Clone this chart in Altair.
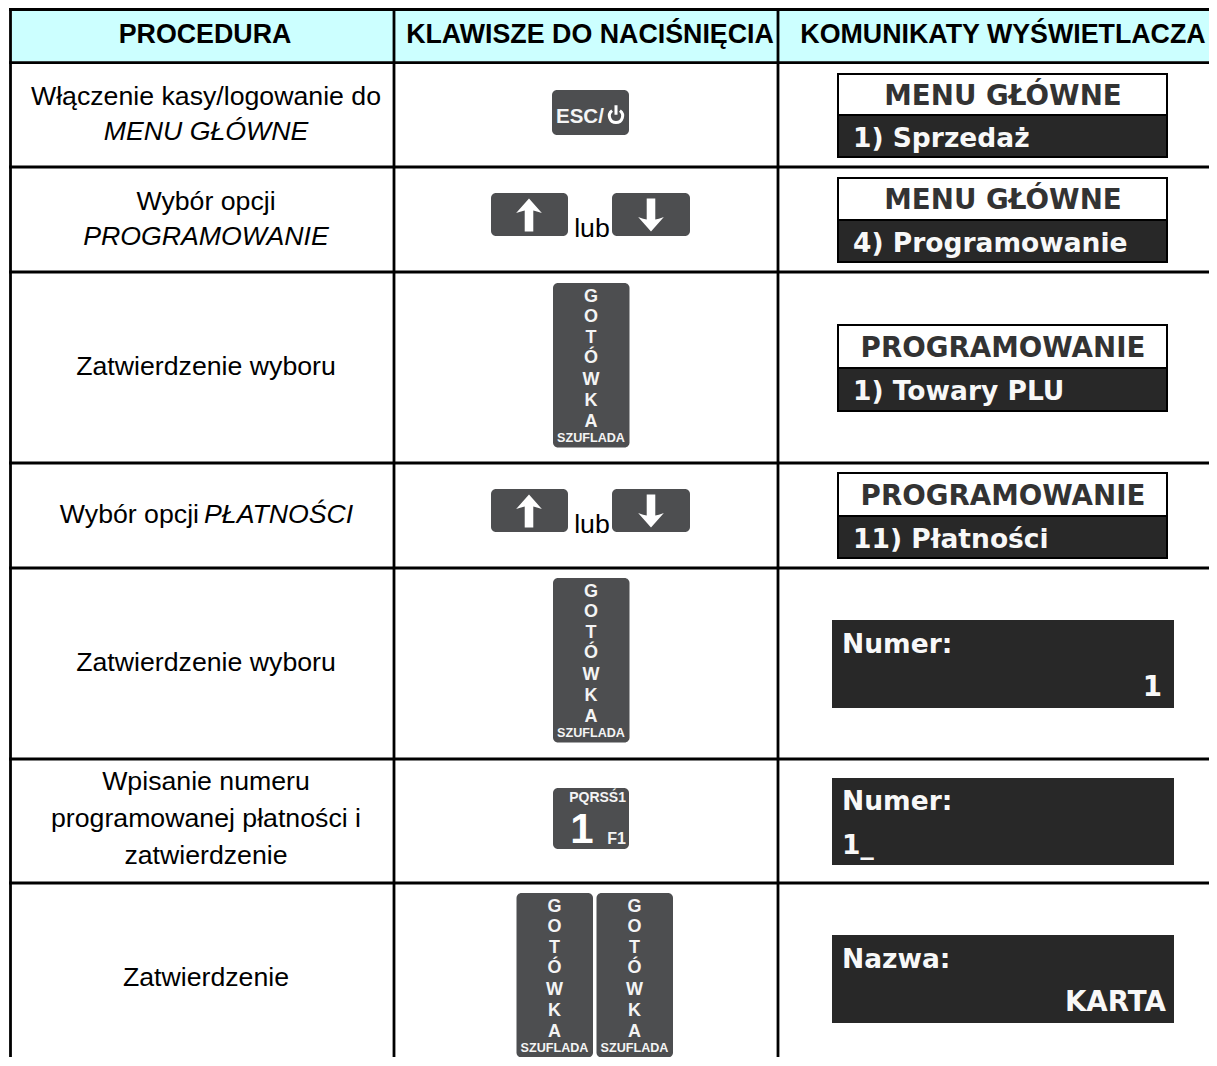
import altair as alt
import pandas as pd

# page margin is 8px: the drawing fits inside it so nothing overflows the page
WIDTH, HEIGHT = 1201, 1049
RIGHT, BOTTOM = 8 + WIDTH, 8 + HEIGHT
SANS = "Liberation Sans"
DISP = "DejaVu Sans"
KEY = "#4d4e50"
DARK = "#282828"
CYAN = "#ccffff"

# table structure
row_lines = [9.5, 62.7, 167, 272, 463, 568, 759, 883]
col_lines = [10.5, 394, 778]

# header
header_text = ["PROCEDURA", "KLAWISZE DO NACIŚNIĘCIA", "KOMUNIKATY WYŚWIETLACZA"]
header_x = [205, 590, 1003]

# procedure column: text, x, baseline
proc_plain = [("Włączenie kasy/logowanie do", 206, 105), ("Wybór opcji", 206, 210),
              ("Zatwierdzenie wyboru", 206, 375), ("Zatwierdzenie wyboru", 206, 671),
              ("Wpisanie numeru", 206, 790), ("programowanej płatności i", 206, 827),
              ("zatwierdzenie", 206, 864), ("Zatwierdzenie", 206, 986)]
proc_italic = [("MENU GŁÓWNE", 206, 140), ("PROGRAMOWANIE", 206, 245)]
mixed_plain = [("Wybór opcji", 199, 523)]
mixed_italic = [("PŁATNOŚCI", 204, 523)]
lub_text = [("lub", 592, 237), ("lub", 592, 533)]

# keys
gotowka_keys = [(591, 283), (591, 578), (554.5, 893), (634.5, 893)]
gotowka_letters = list("GOTÓWKA")
gotowka_base = [19, 39, 60, 80, 102, 123, 144]
plain_keys = [(552, 629, 90, 135), (491, 568, 193, 236), (612, 690, 193, 236),
              (491, 568, 489, 532), (612, 690, 489, 532), (553, 629, 788, 849)]
up_arrows = [(529, 215), (529, 511)]
down_arrows = [(651, 215), (651, 511)]

# displays: top, divider, bottom, title, item, title baseline, item baseline
framed = [(73, 115, 158, "MENU GŁÓWNE", "1) Sprzedaż", 105, 147),
          (177, 220, 263, "MENU GŁÓWNE", "4) Programowanie", 209, 252),
          (324, 368, 412, "PROGRAMOWANIE", "1) Towary PLU", 357, 400),
          (472, 516, 559, "PROGRAMOWANIE", "11) Płatności", 505, 548)]
dark_boxes = [(620, 708), (778, 865), (935, 1023)]
dark_left = [("Numer:", 653), ("Numer:", 810), ("1_", 854), ("Nazwa:", 968)]
dark_right = [("1", 1162, 696), ("KARTA", 1166, 1011)]

X = alt.X("x:Q", scale=alt.Scale(domain=[8, RIGHT], range=[0, WIDTH]), axis=None)
Y = alt.Y("y:Q", scale=alt.Scale(domain=[8, BOTTOM], range=[0, HEIGHT]), axis=None)


def rects(records, radius=0):
    df = pd.DataFrame(records, columns=["x", "x2", "y", "y2", "fill"])
    return alt.Chart(df).mark_rect(cornerRadius=radius).encode(
        x=X, x2="x2:Q", y=Y, y2="y2:Q", color=alt.Color("fill:N", scale=None))


def texts(records, size, font=SANS, weight="normal", style="normal", color="#000000", align="center"):
    df = pd.DataFrame(records, columns=["t", "x", "y"])
    return alt.Chart(df).mark_text(fontSize=size, font=font, fontWeight=weight, fontStyle=style,
                                   color=color, align=align, baseline="alphabetic").encode(
        x=X, y=Y, text="t:N")


def glyphs(records, path, size, filled=True, sw=0):
    df = pd.DataFrame(records, columns=["x", "y"])
    return alt.Chart(df).mark_point(shape=path, size=size, filled=filled, opacity=1,
                                    color="#ffffff", strokeWidth=sw).encode(x=X, y=Y)


layers = []

# header background + grid
layers.append(rects([(12, RIGHT, 11, 61.5, CYAN)]))
h = pd.DataFrame({"y": row_lines, "x": [col_lines[0] - 1.5] * len(row_lines), "x2": [RIGHT] * len(row_lines)})
layers.append(alt.Chart(h).mark_rule(color="#000000", size=2.8).encode(x=X, x2="x2:Q", y=Y))
v = pd.DataFrame({"x": col_lines, "y": [row_lines[0]] * 3, "y2": [BOTTOM] * 3})
layers.append(alt.Chart(v).mark_rule(color="#000000", size=2.8).encode(x=X, y=Y, y2="y2:Q"))

# text columns
layers.append(texts([(t, x, 43) for t, x in zip(header_text, header_x)], 26.8, weight="bold"))
layers.append(texts(proc_plain, 26.7))
layers.append(texts(proc_italic, 26.7, style="italic"))
layers.append(texts(mixed_plain, 26.7, align="right"))
layers.append(texts(mixed_italic, 26.7, style="italic", align="left"))
layers.append(texts(lub_text, 26.7))

# keys
layers.append(rects([(a, b, c, d, KEY) for a, b, c, d in plain_keys], radius=5))
layers.append(rects([(x - 38, x + 38.5, y, y + 164.5, KEY) for x, y in gotowka_keys], radius=5))
layers.append(texts([(l, x, y + b) for x, y in gotowka_keys for l, b in zip(gotowka_letters, gotowka_base)],
                    18, weight="bold", color="#f4f4f4"))
layers.append(texts([("SZUFLADA", x, y + 159) for x, y in gotowka_keys], 12.6, weight="bold", color="#f4f4f4"))
layers.append(texts([("ESC/", 556, 123)], 20.5, weight="bold", color="#f4f4f4", align="left"))
layers.append(texts([("PQRSŚ1", 626, 802)], 14, weight="bold", color="#f4f4f4", align="right"))
layers.append(texts([("1", 582, 843)], 42, weight="bold", color="#ffffff"))
layers.append(texts([("F1", 626, 844)], 16, weight="bold", color="#f4f4f4", align="right"))
UP = "M0,-1 L0.78,-0.12 Q0.44,-0.24 0.26,-0.28 L0.26,1 L-0.26,1 L-0.26,-0.28 Q-0.44,-0.24 -0.78,-0.12 Z"
DOWN = "M0,1 L0.78,0.12 Q0.44,0.24 0.26,0.28 L0.26,-1 L-0.26,-1 L-0.26,0.28 Q-0.44,0.24 -0.78,0.12 Z"
layers.append(glyphs(up_arrows, UP, 33 ** 2))
layers.append(glyphs(down_arrows, DOWN, 33 ** 2))
layers.append(glyphs([(616, 116)], "M-0.52,-0.72 A0.88,0.88 0 1 0 0.52,-0.72 M0,-1.44 L0,-0.16", 15 ** 2,
                     filled=False, sw=3))

# displays
layers.append(rects([(837, 1168, f[0], f[2], "#000000") for f in framed]))
layers.append(rects([(839, 1166, f[0] + 2, f[1] - 1, "#ffffff") for f in framed]))
layers.append(rects([(839, 1166, f[1] + 1, f[2] - 2, DARK) for f in framed]))
layers.append(texts([(f[3], 1003, f[5]) for f in framed], 27.7, font=DISP, weight="bold", color="#333333"))
layers.append(texts([(f[4], 853, f[6]) for f in framed], 26.5, font=DISP, weight="bold", color="#f8f8f8", align="left"))
layers.append(rects([(832, 1174, a, b, DARK) for a, b in dark_boxes]))
layers.append(texts([(t, 842, y) for t, y in dark_left], 26.5, font=DISP, weight="bold", color="#f8f8f8", align="left"))
layers.append(texts(dark_right, 27.7, font=DISP, weight="bold", color="#f8f8f8", align="right"))

chart = alt.layer(*layers).properties(
    width=WIDTH, height=HEIGHT, padding=0, autosize=alt.AutoSizeParams(type="none")
).configure_view(stroke=None)

chart.save("out.html", embed_options={"renderer": "svg", "actions": False})
